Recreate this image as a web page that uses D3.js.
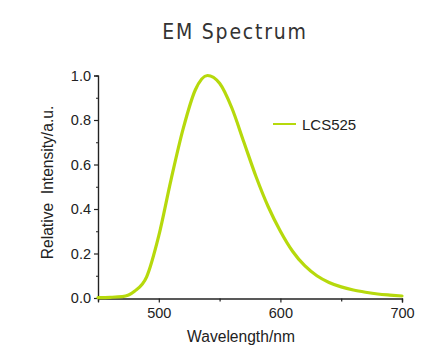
<!DOCTYPE html>
<html><head><meta charset="utf-8">
<script src="https://cdn.jsdelivr.net/npm/d3@7"></script>
<style>body{margin:0;background:#fff}</style>
</head><body>
<svg id="c" width="438" height="356"></svg>
<script>
const wavelengths = [450,460,470,480,490,500,510,520,530,540,550,560,570,580,590,600,610,620,630,640,650,660,670,680,690,700];
const intensity   = [0.002,0.003,0.006,0.03,0.095,0.28,0.53,0.76,0.935,1.0,0.965,0.855,0.70,0.545,0.41,0.30,0.21,0.145,0.10,0.07,0.05,0.036,0.026,0.018,0.013,0.009];
const xTicks = [500,600,700];
const xMinor = [450,550,650];
const yTicks = [0,0.2,0.4,0.6,0.8,1.0];
const yMinor = [0.1,0.3,0.5,0.7,0.9];
const seriesName = "LCS525";
const title = "EM Spectrum";
const xLabel = "Wavelength/nm";
const yLabel = "Relative\u00a0\u00a0Intensity/a.u.";

const svg = d3.select("#c");
const x = d3.scaleLinear().domain([450,700]).range([98,402]);
const y = d3.scaleLinear().domain([0,1]).range([298,75.5]);
const col = "#b6d90c";
const font = "Liberation Sans, Arial, sans-serif";

svg.append("text").attr("x",235).attr("y",38.5).attr("text-anchor","middle")
  .attr("font-family","DejaVu Sans Condensed, DejaVu Sans, sans-serif").attr("font-size",21)
  .attr("letter-spacing",1.8).attr("fill","#333").text(title);

// x axis
const gx = svg.append("g").attr("transform","translate(0,298.5)");
gx.call(d3.axisBottom(x).tickValues(xTicks).tickSize(4).tickPadding(5).tickFormat(d3.format("d")));
gx.append("g").call(d3.axisBottom(x).tickValues(xMinor).tickSize(3).tickFormat(""));
gx.selectAll(".domain").attr("stroke","#222").attr("stroke-width",1.2);
gx.selectAll(".tick line").attr("stroke","#222").attr("stroke-width",1.2);
gx.selectAll("text").attr("font-family",font).attr("font-size",14.5).attr("fill","#222");

// y axis
const gy = svg.append("g").attr("transform","translate(98,0)");
gy.call(d3.axisLeft(y).tickValues(yTicks).tickSize(4).tickPadding(3).tickFormat(d3.format(".1f")));
gy.append("g").call(d3.axisLeft(y).tickValues(yMinor).tickSize(2).tickFormat(""));
gy.selectAll(".domain").attr("stroke","#222").attr("stroke-width",1.2);
gy.selectAll(".tick line").attr("stroke","#222").attr("stroke-width",1.2);
gy.selectAll("text").attr("font-family",font).attr("font-size",14.5).attr("fill","#222");

svg.append("text").attr("x",241).attr("y",342).attr("text-anchor","middle")
  .attr("font-family",font).attr("font-size",15.6).attr("fill","#222").text(xLabel);
svg.append("text").attr("transform","translate(53,182.5) rotate(-90)").attr("text-anchor","middle")
  .attr("font-family",font).attr("font-size",15.6).attr("fill","#222").text(yLabel);

const data = wavelengths.map((w,i)=>({w,v:intensity[i]}));
svg.append("path").datum(data).attr("fill","none").attr("stroke",col).attr("stroke-width",3.2)
  .attr("stroke-linejoin","round").attr("stroke-linecap","round")
  .attr("d",d3.line().x(d=>x(d.w)).y(d=>y(d.v)).curve(d3.curveMonotoneX));

// legend
svg.append("line").attr("x1",273).attr("x2",296).attr("y1",124).attr("y2",124)
  .attr("stroke",col).attr("stroke-width",2);
svg.append("text").attr("x",302).attr("y",129.5).attr("font-family",font).attr("font-size",15)
  .attr("fill","#222").text(seriesName);
</script>
</body></html>
